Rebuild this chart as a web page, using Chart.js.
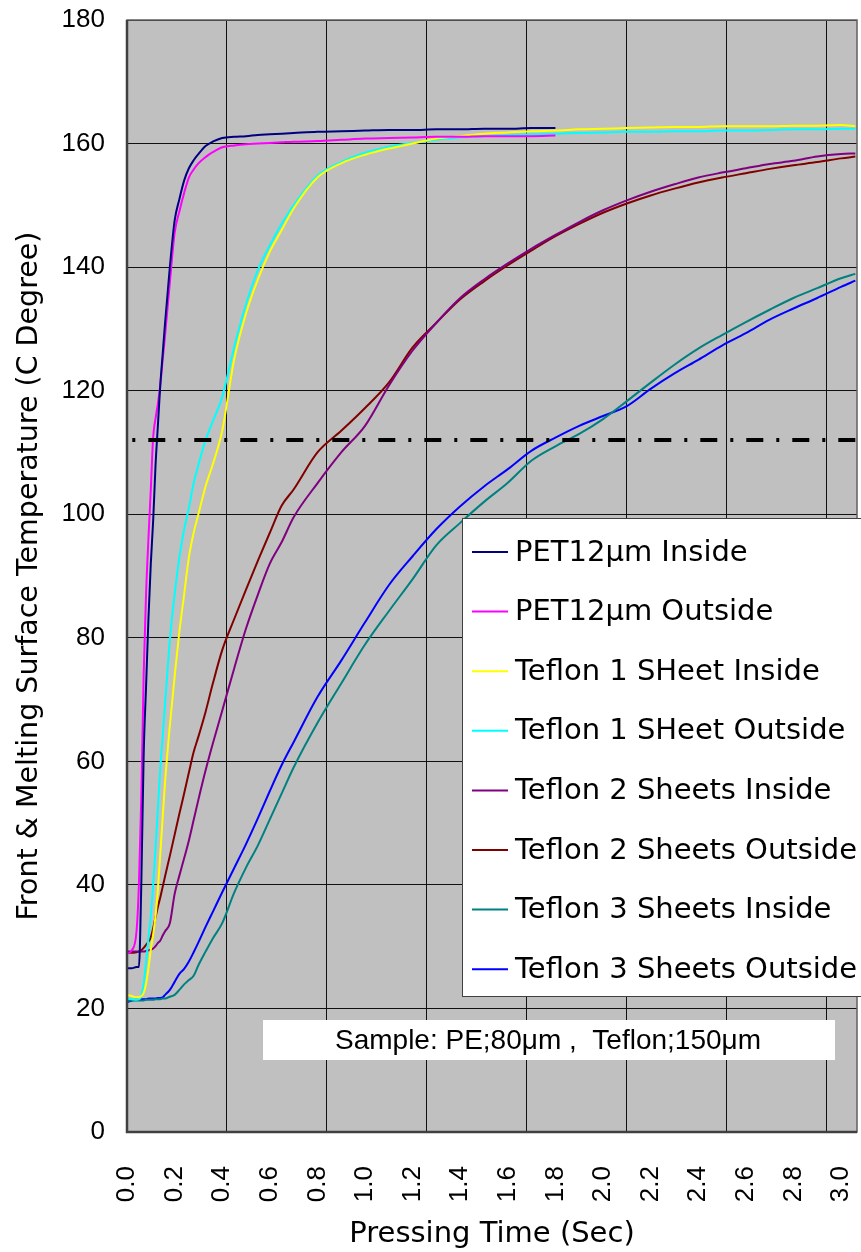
<!DOCTYPE html>
<html>
<head>
<meta charset="utf-8">
<script src="https://cdn.jsdelivr.net/npm/chart.js@4.4.0/dist/chart.umd.min.js"></script>
<style>
  html, body { margin: 0; padding: 0; background: #fff; }
  #wrap { width: 861px; height: 1252px; }
</style>
</head>
<body>
<div id="wrap"><canvas id="tempChart" width="861" height="1252"></canvas></div>
<script>
// pressing time (sec) where the curves were read
const times = [0, 0.02, 0.04, 0.05, 0.06, 0.07, 0.08, 0.09,
  0.10, 0.11, 0.12, 0.13, 0.14, 0.15, 0.16,
  0.18, 0.20, 0.22, 0.24, 0.26, 0.28, 0.30,
  0.33, 0.36, 0.40, 0.45, 0.50, 0.55, 0.60, 0.65, 0.70,
  0.80, 0.90, 1.00,
  1.10, 1.20, 1.30, 1.40, 1.50, 1.60, 1.70, 1.80,
  1.90, 2.00, 2.10, 2.20, 2.30, 2.40, 2.50, 2.60, 2.70, 2.80, 2.90, 3.00, 3.06];

// temperatures (C), PET runs stop at 1.8 sec
const petInside = [26.5, 26.5, 26.7, 26.7, 40, 61, 72, 83,
  92, 99, 108, 114.5, 121, 126, 131,
  140, 147.5, 151, 154, 156, 157.3, 158.3,
  159.6, 160.3, 160.9, 161.1, 161.2, 161.4, 161.5, 161.6, 161.7,
  161.9, 162.0, 162.1,
  162.2, 162.2, 162.3, 162.3, 162.4, 162.4, 162.5, 162.5];
const petOutside = [28.9, 29.4, 32.5, 40, 54, 74, 87, 96,
  104, 112.5, 115.5, 118, 121, 125, 129,
  137.5, 145.5, 149, 152, 154.5, 155.8, 156.8,
  157.8, 158.6, 159.4, 159.7, 159.9, 160.0, 160.1, 160.2, 160.3,
  160.4, 160.6, 160.8,
  160.9, 161.0, 161.1, 161.1, 161.2, 161.2, 161.2, 161.3];
const teflon1Inside = [22.2, 22, 21.8, 21.8, 22, 22.5, 24, 26.5,
  29.5, 32, 35, 39.4, 45.2, 51, 56.7,
  65.8, 73.7, 81, 87, 93, 97, 100,
  104.5, 108, 113.5, 125, 132.5, 138, 142.5, 146, 149.5,
  154.5, 156.8, 158.2,
  159.2, 160, 160.8, 161.2, 161.6, 161.8, 162, 162.1,
  162.3, 162.4, 162.5, 162.6, 162.7, 162.7, 162.8, 162.8, 162.8, 162.9, 162.9, 163, 162.8];
const teflon1Outside = [21.6, 21.5, 21.4, 21.5, 22, 24, 27.5, 31.3,
  35, 40, 46, 52.5, 59, 64, 69.3,
  79.6, 87, 93, 97.5, 101, 105, 108,
  112, 115, 119, 127, 134, 139.5, 143.5, 147, 150,
  154.8, 157, 158.5,
  159.5, 160.1, 160.6, 161, 161.2, 161.4, 161.5, 161.6,
  161.7, 161.8, 161.9, 161.9, 162, 162, 162.1, 162.1, 162.2, 162.3, 162.3, 162.4, 162.4];
const teflon2Inside = [29.2, 29.2, 29.2, 29.2, 29.2, 29.2, 29.3, 29.4,
  29.5, 29.7, 30.1, 30.6, 31, 31.8, 32.5,
  33.8, 38.5, 41.5, 44.3, 47.2, 50.5, 53.8,
  58.5, 62.8, 68.2, 75, 81.5, 87, 92, 95.5, 99.5,
  105, 110, 114.3,
  120.8, 126.5, 131, 135, 138, 140.6, 143, 145.2,
  147.3, 149.2, 150.8, 152.2, 153.4, 154.5, 155.3, 156, 156.7, 157.2, 157.9, 158.3, 158.4];
const teflon2Outside = [29, 29, 29.1, 29.2, 29.4, 29.8, 30.3, 30.8,
  31.5, 33, 34.8, 36.5, 38, 39.7, 41.4,
  44.7, 48.1, 51.5, 54.8, 58.2, 61.5, 64,
  68, 72.5, 78, 83, 87.8, 92.5, 97, 101.4, 104,
  110, 113.5, 117.2,
  121.3, 127, 131, 134.8, 137.7, 140.3, 142.7, 145,
  147, 148.8, 150.3, 151.6, 152.7, 153.7, 154.5, 155.2, 155.9, 156.5, 157, 157.6, 157.9];
const teflon3Inside = [21.2, 21.3, 21.3, 21.3, 21.3, 21.3, 21.4, 21.4,
  21.4, 21.4, 21.5, 21.5, 21.5, 21.6, 21.6,
  21.9, 22.2, 23, 23.9, 24.6, 25.3, 27,
  29.2, 31.3, 33.8, 38.7, 42.8, 46.4, 50.6, 54.8, 59,
  66.2, 72.6, 78.9,
  84.3, 89.5, 95, 98.6, 102, 105.1, 108.7, 111,
  113, 115.4, 118.3, 121.3, 124.2, 126.8, 129, 131.1, 133.1, 135, 136.6, 138.2, 138.9];
const teflon3Outside = [21, 21.3, 21.4, 21.4, 21.5, 21.5, 21.5, 21.6,
  21.6, 21.6, 21.6, 21.7, 21.7, 21.8, 22.2,
  23, 24.3, 25.6, 26.4, 27.6, 29.1, 30.7,
  33.2, 35.6, 38.8, 42.7, 46.6, 50.8, 55.2, 59.4, 63.1,
  70.4, 76.3, 82.5,
  88.5, 93.2, 97.6, 101.3, 104.5, 107.3, 110.3, 112.4,
  114.3, 115.9, 117.5, 120.3, 122.8, 125, 127.3, 129.3, 131.5, 133.3, 135, 136.8, 137.8];

const seriesNames = ["PET12μm Inside", "PET12μm Outside", "Teflon 1 SHeet Inside", "Teflon 1 SHeet Outside",
  "Teflon 2 Sheets Inside", "Teflon 2 Sheets Outside", "Teflon 3 Sheets Inside", "Teflon 3 Sheets Outside"];
const seriesValues = [petInside, petOutside, teflon1Inside, teflon1Outside,
  teflon2Inside, teflon2Outside, teflon3Inside, teflon3Outside];
const seriesColors = ["#000080", "#FF00FF", "#FFFF00", "#00FFFF", "#800080", "#800000", "#008080", "#0000FF"];

const xTickLabels = ["0.0", "0.2", "0.4", "0.6", "0.8", "1.0", "1.2", "1.4", "1.6", "1.8",
  "2.0", "2.2", "2.4", "2.6", "2.8", "3.0"];
const xMax = 3.067;
const gridStep = 0.4196;      // vertical grid spacing of the original sheet
const yMin = 0, yMax = 180, yStep = 20;
const meltLine = 112;         // dash-dot reference temperature
const sampleNote = "Sample: PE;80μm ,  Teflon;150μm";

function toPoints(values) {
  return values.map((v, i) => ({ x: times[i], y: v }));
}

const datasets = seriesValues.map((vals, i) => ({
  label: seriesNames[i],
  data: toPoints(vals),
  borderColor: seriesColors[i],
  backgroundColor: seriesColors[i],
  borderWidth: 2,
  pointRadius: 0,
  cubicInterpolationMode: 'monotone',
  order: 1,
  inLegend: true
}));

datasets.push({
  label: 'melt',
  data: [{ x: 0, y: meltLine }, { x: xMax, y: meltLine }],
  borderColor: '#000',
  borderWidth: 4,
  borderDash: [17, 13, 3, 13],
  borderDashOffset: 24.7,
  pointRadius: 0,
  order: 0,
  inLegend: false
});

// keep the plot box where the sheet had it
function noPad(s) {
  s.paddingTop = 0; s.paddingBottom = 0; s.paddingLeft = 0; s.paddingRight = 0;
}

const plotBackground = {
  id: 'plotBackground',
  beforeDraw(chart) {
    const { ctx, chartArea: a } = chart;
    ctx.save();
    ctx.fillStyle = '#C0C0C0';
    ctx.fillRect(a.left, a.top, a.right - a.left, a.bottom - a.top);
    ctx.restore();
  },
  afterDatasetsDraw(chart) {
    const { ctx, chartArea: a } = chart;
    ctx.save();
    ctx.strokeStyle = '#606060';
    ctx.lineWidth = 1.5;
    ctx.strokeRect(a.left, a.top, a.right - a.left, a.bottom - a.top);
    ctx.strokeStyle = '#404040';
    ctx.lineWidth = 2.5;
    ctx.beginPath();
    ctx.moveTo(a.left, a.top);
    ctx.lineTo(a.left, a.bottom);
    ctx.lineTo(a.right, a.bottom);
    ctx.stroke();
    ctx.restore();
  }
};

const boxLegend = {
  id: 'boxLegend',
  afterDraw(chart) {
    const ctx = chart.ctx;
    const sets = chart.data.datasets.filter(d => d.inLegend);
    ctx.save();
    ctx.fillStyle = '#fff';
    ctx.fillRect(462, 518, 420, 479);
    ctx.strokeStyle = '#404040';
    ctx.lineWidth = 1;
    ctx.strokeRect(462.5, 518.5, 420, 478);
    ctx.font = '29px "DejaVu Sans"';
    ctx.textBaseline = 'middle';
    sets.forEach((d, i) => {
      const y = 552 + i * 59.6;
      ctx.strokeStyle = d.borderColor;
      ctx.lineWidth = 2;
      ctx.beginPath();
      ctx.moveTo(472, y);
      ctx.lineTo(508, y);
      ctx.stroke();
      ctx.fillStyle = '#000';
      ctx.fillText(d.label, 515, y + 1);
    });

    // sample note box
    ctx.fillStyle = '#fff';
    ctx.fillRect(263, 1020, 572, 40);
    ctx.fillStyle = '#000';
    ctx.font = '28px "Liberation Sans"';
    ctx.textAlign = 'center';
    ctx.fillText(sampleNote, 548, 1041);
    ctx.restore();
  }
};

new Chart(document.getElementById('tempChart'), {
  type: 'line',
  data: { datasets: datasets },
  options: {
    responsive: false,
    animation: false,
    devicePixelRatio: 1,
    layout: { padding: { top: 20, right: 4, left: 0, bottom: 0 } },
    plugins: { legend: { display: false }, tooltip: { enabled: false } },
    scales: {
      x: {
        type: 'linear',
        position: 'bottom',
        min: 0,
        max: xMax,
        afterBuildTicks: s => { s.ticks = xTickLabels.map(t => ({ value: parseFloat(t) })); },
        afterFit: s => { s.height = 120; noPad(s); },
        grid: { display: false },
        border: { display: false },
        ticks: {
          autoSkip: false,
          maxRotation: 90,
          minRotation: 90,
          padding: 26,
          color: '#000',
          font: { family: 'Liberation Sans', size: 26 },
          callback: v => v.toFixed(1)
        },
        title: {
          display: true,
          text: 'Pressing Time (Sec)',
          color: '#000',
          font: { family: 'DejaVu Sans', size: 29 },
          padding: { top: 0, bottom: 0 }
        }
      },
      xg: {
        type: 'linear',
        position: 'bottom',
        min: 0,
        max: xMax,
        afterBuildTicks: s => {
          const t = [];
          for (let v = gridStep; v < xMax - 0.05; v += gridStep) t.push({ value: v });
          s.ticks = t;
        },
        afterFit: s => { s.height = 0; noPad(s); },
        ticks: { display: false },
        border: { display: false },
        grid: { color: '#111', lineWidth: 1, drawTicks: false }
      },
      y: {
        min: yMin,
        max: yMax,
        afterFit: s => { s.width = 127; noPad(s); },
        ticks: {
          stepSize: yStep,
          padding: 22,
          color: '#000',
          font: { family: 'Liberation Sans', size: 26 }
        },
        grid: { color: '#111', lineWidth: 1, drawTicks: false },
        border: { display: false },
        title: {
          display: true,
          text: 'Front & Melting Surface Temperature (C Degree)',
          color: '#000',
          font: { family: 'DejaVu Sans', size: 28.5 },
          padding: { top: 12, bottom: 0 }
        }
      }
    }
  },
  plugins: [plotBackground, boxLegend]
});
</script>
</body>
</html>
